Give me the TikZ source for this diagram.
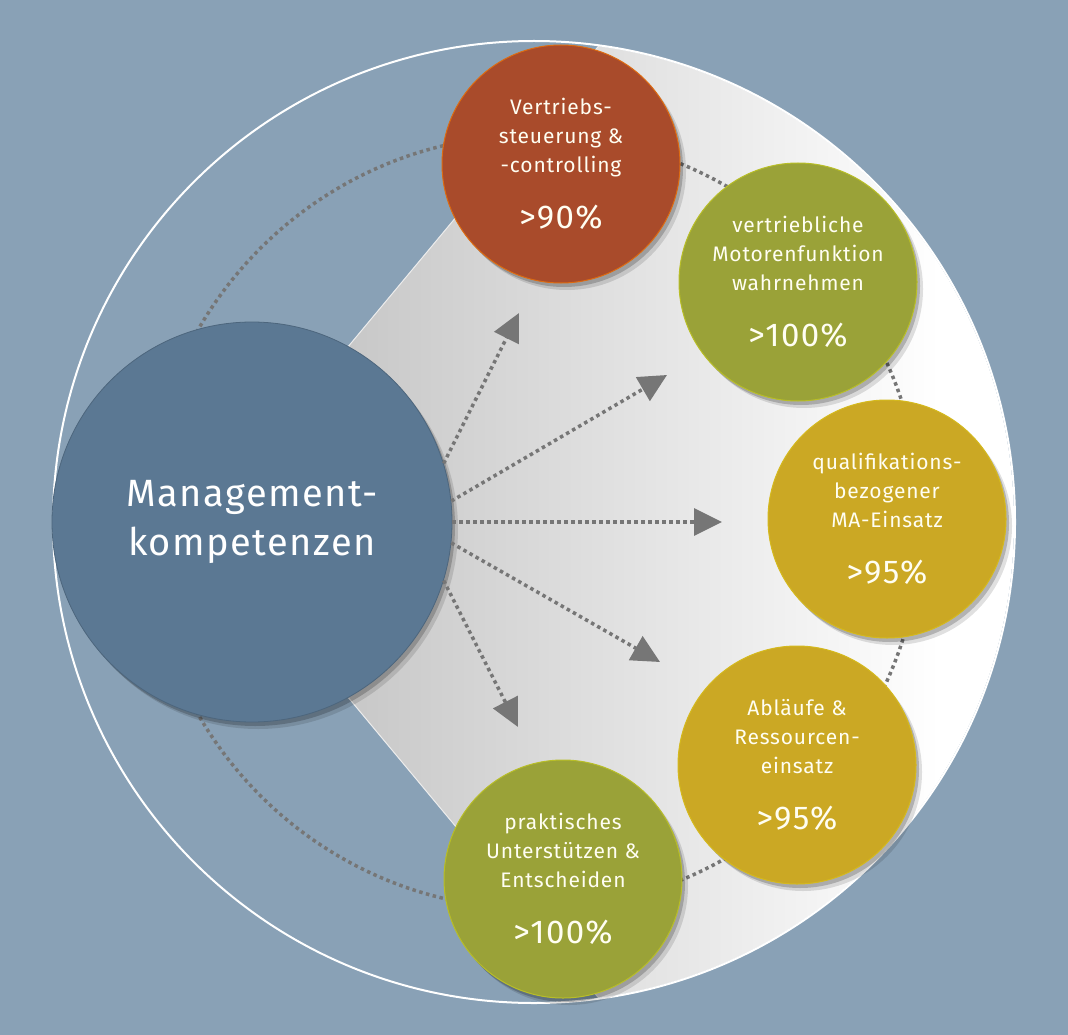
\documentclass[tikz,border=0pt]{standalone}
\usepackage{fontspec}
\setmainfont{Fira Sans}[LetterSpace=4]
\usetikzlibrary{arrows.meta,shadows}
\definecolor{bgblue}{RGB}{137,161,182}
\definecolor{mgmtblue}{RGB}{91,120,147}
\definecolor{rustred}{RGB}{169,75,43}
\definecolor{olivegreen}{RGB}{154,162,56}
\definecolor{ochre}{RGB}{203,168,36}
\definecolor{dotgray}{RGB}{118,118,118}
\newcommand{\pctval}[1]{{\fontsize{33}{29}\selectfont #1}}

\begin{document}
\begin{tikzpicture}[x=1pt, y=-1pt,
                softshadow/.style={drop shadow={shadow xshift=3pt, shadow yshift=-4pt, opacity=.2, fill=black},
                                   drop shadow={shadow xshift=6pt, shadow yshift=-7pt, opacity=.12, fill=black}},
                bigmgmtnode/.style={shape=circle, minimum size=400pt, inner sep=0pt, fill=mgmtblue, draw=mgmtblue!85!black, line width=.8pt, softshadow, text=white, font=\fontsize{38}{49}\selectfont, align=center},
                smallnode/.style={shape=circle, minimum size=238pt, inner sep=0pt, softshadow, text=white!95!yellow, font=\fontsize{21}{29}\selectfont, align=center, line width=1pt},
                rustnode/.style={smallnode, fill=rustred, draw=orange!60!rustred},
                olivenode/.style={smallnode, fill=olivegreen, draw=olivegreen!70!yellow},
                ochrenode/.style={smallnode, fill=ochre, draw=ochre!80!yellow},
                dotline/.style={dotgray, line width=3.5pt, dash pattern=on 3.5pt off 3.5pt},
                dotarrow/.style={dotline, -{Triangle[length=28pt, width=27pt]}}]
            % Background
            \useasboundingbox (0,0) rectangle (1068,1035);
            \fill[bgblue] (0,0) rectangle (1068,1035);
            \coordinate (c) at (534,522);
            % Light sector
            \begin{scope}
                \clip (c) circle (480);
                \fill[white] (202,522) -- (612,30) -- (1068,30) -- (1068,1014) -- (612,1014) -- cycle;
                \begin{scope}
                    \clip (202,522) -- (612,30) -- (1068,30) -- (1068,1014) -- (612,1014) -- cycle;
                    \shade[left color=black!27, right color=white] (202,30) rectangle (940,1014);
                \end{scope}
                \draw[white!85!gray, line width=1pt] (612,30) -- (202,522) -- (612,1014);
            \end{scope}
            \draw[white, line width=2pt] (c) circle (481);
            \draw[dotline] (c) circle (387);
            % Circles
            \node[bigmgmtnode] (mg) at (252,522) {Management-\\kompetenzen};
            \node[rustnode] (vs) at (561,164) {Vertriebs-\\steuerung \&\\-controlling\\[27pt]\pctval{>90\%}};
            \node[olivenode] (vm) at (798,282) {vertriebliche\\Motorenfunktion\\wahrnehmen\\[27pt]\pctval{>100\%}};
            \node[ochrenode] (qm) at (887,519) {qualifikations-\\bezogener\\MA-Einsatz\\[27pt]\pctval{>95\%}};
            \node[ochrenode] (ar) at (797,765) {Abläufe \&\\Ressourcen-\\einsatz\\[27pt]\pctval{>95\%}};
            \node[olivenode] (pu) at (563,879) {praktisches\\Unterstützen \&\\Entscheiden\\[27pt]\pctval{>100\%}};
            % Arrows
            \coordinate (t1) at (519,313);
            \coordinate (t2) at (667,375);
            \coordinate (t3) at (722,522);
            \coordinate (t4) at (660,662);
            \coordinate (t5) at (518,727);
            \foreach \a/\t in {17/t1, 6/t2, 0/t3, -6/t4, -17/t5} {
                \draw[dotarrow] (mg.\a) -- (\t);
            }
\end{tikzpicture}
\end{document}
